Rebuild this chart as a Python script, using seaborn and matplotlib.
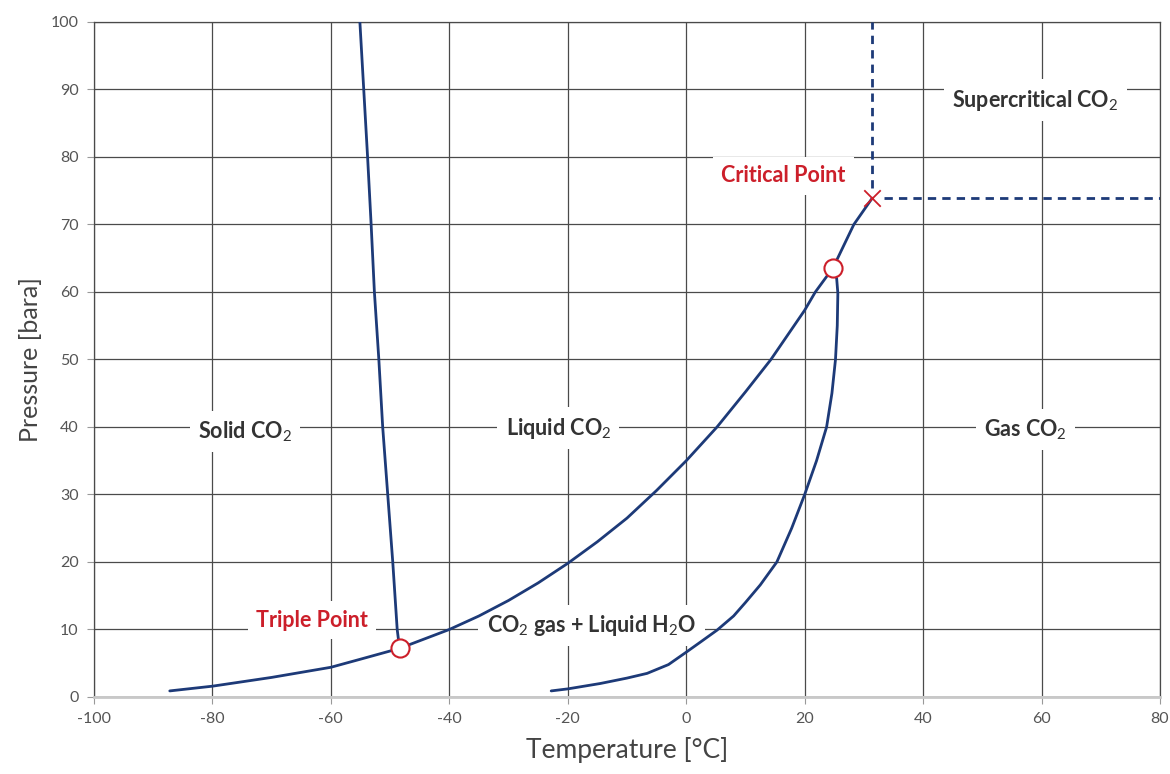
import matplotlib
matplotlib.use("Agg")
import matplotlib.pyplot as plt
import seaborn as sns
import pandas as pd

# ---- data ----
melt_T = [-48.4, -48.8, -49.55, -50.4, -51.25, -51.9, -52.65, -53.2, -53.8, -54.45, -55.1]
melt_P = [7.2, 10, 20, 30, 40, 50, 60, 70, 80, 90, 100]

vap_T = [-87.2, -80, -70, -60, -55, -48.4, -40, -35, -30, -25, -20, -15, -10, -5, 0,
         5.2, 10, 14.3, 20, 21.8, 24.8, 28.3, 31.4]
vap_P = [0.9, 1.6, 2.9, 4.4, 5.6, 7.2, 10, 12, 14.3, 16.9, 19.8, 23, 26.5, 30.6, 35,
         40, 45.2, 50, 57.3, 60, 63.6, 70, 73.9]

hyd_T = [-22.8, -20, -14.5, -10, -6.6, -3, 0.1, 2.5, 5.2, 8, 10, 12.5, 15.3, 17.8, 20,
         22.0, 23.7, 24.6, 25.2, 25.5, 25.6, 25.4, 24.8]
hyd_P = [0.9, 1.2, 2.0, 2.8, 3.5, 4.8, 6.7, 8.2, 9.9, 12, 14, 16.6, 20, 25, 30,
         35, 40, 45, 50, 55, 59.8, 62, 63.6]

triple_T, triple_P = -48.4, 7.2
quad_T, quad_P = 24.8, 63.6
crit_T, crit_P = 31.4, 73.9

x_ticks = [-100, -80, -60, -40, -20, 0, 20, 40, 60, 80]
y_ticks = [0, 10, 20, 30, 40, 50, 60, 70, 80, 90, 100]

region_labels = ["Solid CO$_2$", "Liquid CO$_2$", "Gas CO$_2$", "Supercritical CO$_2$",
                 "CO$_2$ gas + Liquid H$_2$O"]
region_T = [-74.5, -21.6, 57.3, 59.0, -16.0]
region_P = [39.3, 39.8, 39.6, 88.4, 10.6]

point_labels = ["Critical Point", "Triple Point"]
point_label_T = [16.4, -63.2]
point_label_P = [77.2, 11.4]

# ---- style ----
sns.set_style("white")
plt.rcParams["font.family"] = ["Lato", "DejaVu Sans"]
plt.rcParams["mathtext.fontset"] = "custom"
plt.rcParams["mathtext.rm"] = "Lato"
plt.rcParams["mathtext.it"] = "Lato"
plt.rcParams["mathtext.bf"] = "Lato:bold"
plt.rcParams["axes.unicode_minus"] = False

navy = "#1d3a78"
red = "#cc1f2a"
grid_c = "#4a4a4a"
text_c = "#333333"

fig = plt.figure(figsize=(11.7, 7.74), dpi=100)
ax = fig.add_axes([0.0803, 0.0995, 0.9112, 0.8721])

ax.set_xlim(-100, 80)
ax.set_ylim(0, 100)
ax.set_xticks(x_ticks)
ax.set_yticks(y_ticks)

# grid
for t in x_ticks:
    ax.axvline(t, color=grid_c, lw=0.9, zorder=0)
for t in y_ticks[1:]:
    ax.axhline(t, color=grid_c, lw=0.9, zorder=0)
ax.axhline(0, color="#c8c8c8", lw=2.0, zorder=0)

for s in ["left", "right", "top"]:
    ax.spines[s].set_color(grid_c)
    ax.spines[s].set_linewidth(0.9)
ax.spines["bottom"].set_color("#c8c8c8")
ax.spines["bottom"].set_linewidth(2.0)

ax.tick_params(axis="both", direction="out", length=5, width=0.8, color="#999999",
               labelsize=11.5, labelcolor="#555555", bottom=True, left=True, pad=6)

# curves
df_m = pd.DataFrame({"T": melt_T, "P": melt_P})
df_v = pd.DataFrame({"T": vap_T, "P": vap_P})
df_h = pd.DataFrame({"T": hyd_T, "P": hyd_P})
for d in (df_m, df_v, df_h):
    sns.lineplot(data=d, x="T", y="P", sort=False, color=navy, lw=2.0, ax=ax, zorder=3)
for ln in ax.lines[-3:]:
    ln.set_solid_joinstyle("round")
    ln.set_solid_capstyle("round")

# dashed critical lines
ax.plot([crit_T, crit_T], [crit_P + 1.5, 100], ls=(0, (3, 2.2)), color=navy, lw=2.0, zorder=3)
ax.plot([crit_T + 2.0, 80], [crit_P, crit_P], ls=(0, (3, 2.2)), color=navy, lw=2.0, zorder=3)

# points
ax.scatter([triple_T, quad_T], [triple_P, quad_P], s=170, facecolor="white",
           edgecolor=red, linewidth=1.5, zorder=5)
ax.scatter([crit_T], [crit_P], s=140, marker="x", color=red, linewidth=1.3, zorder=5)

# labels
box = dict(facecolor="white", edgecolor="none", pad=6)
for lab, t, p in zip(region_labels, region_T, region_P):
    ax.text(t, p, lab, ha="center", va="center", fontsize=15.5, fontweight="bold",
            color=text_c, bbox=box, zorder=2)
for lab, t, p in zip(point_labels, point_label_T, point_label_P):
    ax.text(t, p, lab, ha="center", va="center", fontsize=15.5, fontweight="bold",
            color=red, bbox=box, zorder=2)

ax.set_xlabel("Temperature [°C]", fontsize=19, color="#444444", labelpad=8)
ax.set_ylabel("Pressure [bara]", fontsize=18, color="#444444", labelpad=6)

fig.savefig("out.png", dpi=100)
